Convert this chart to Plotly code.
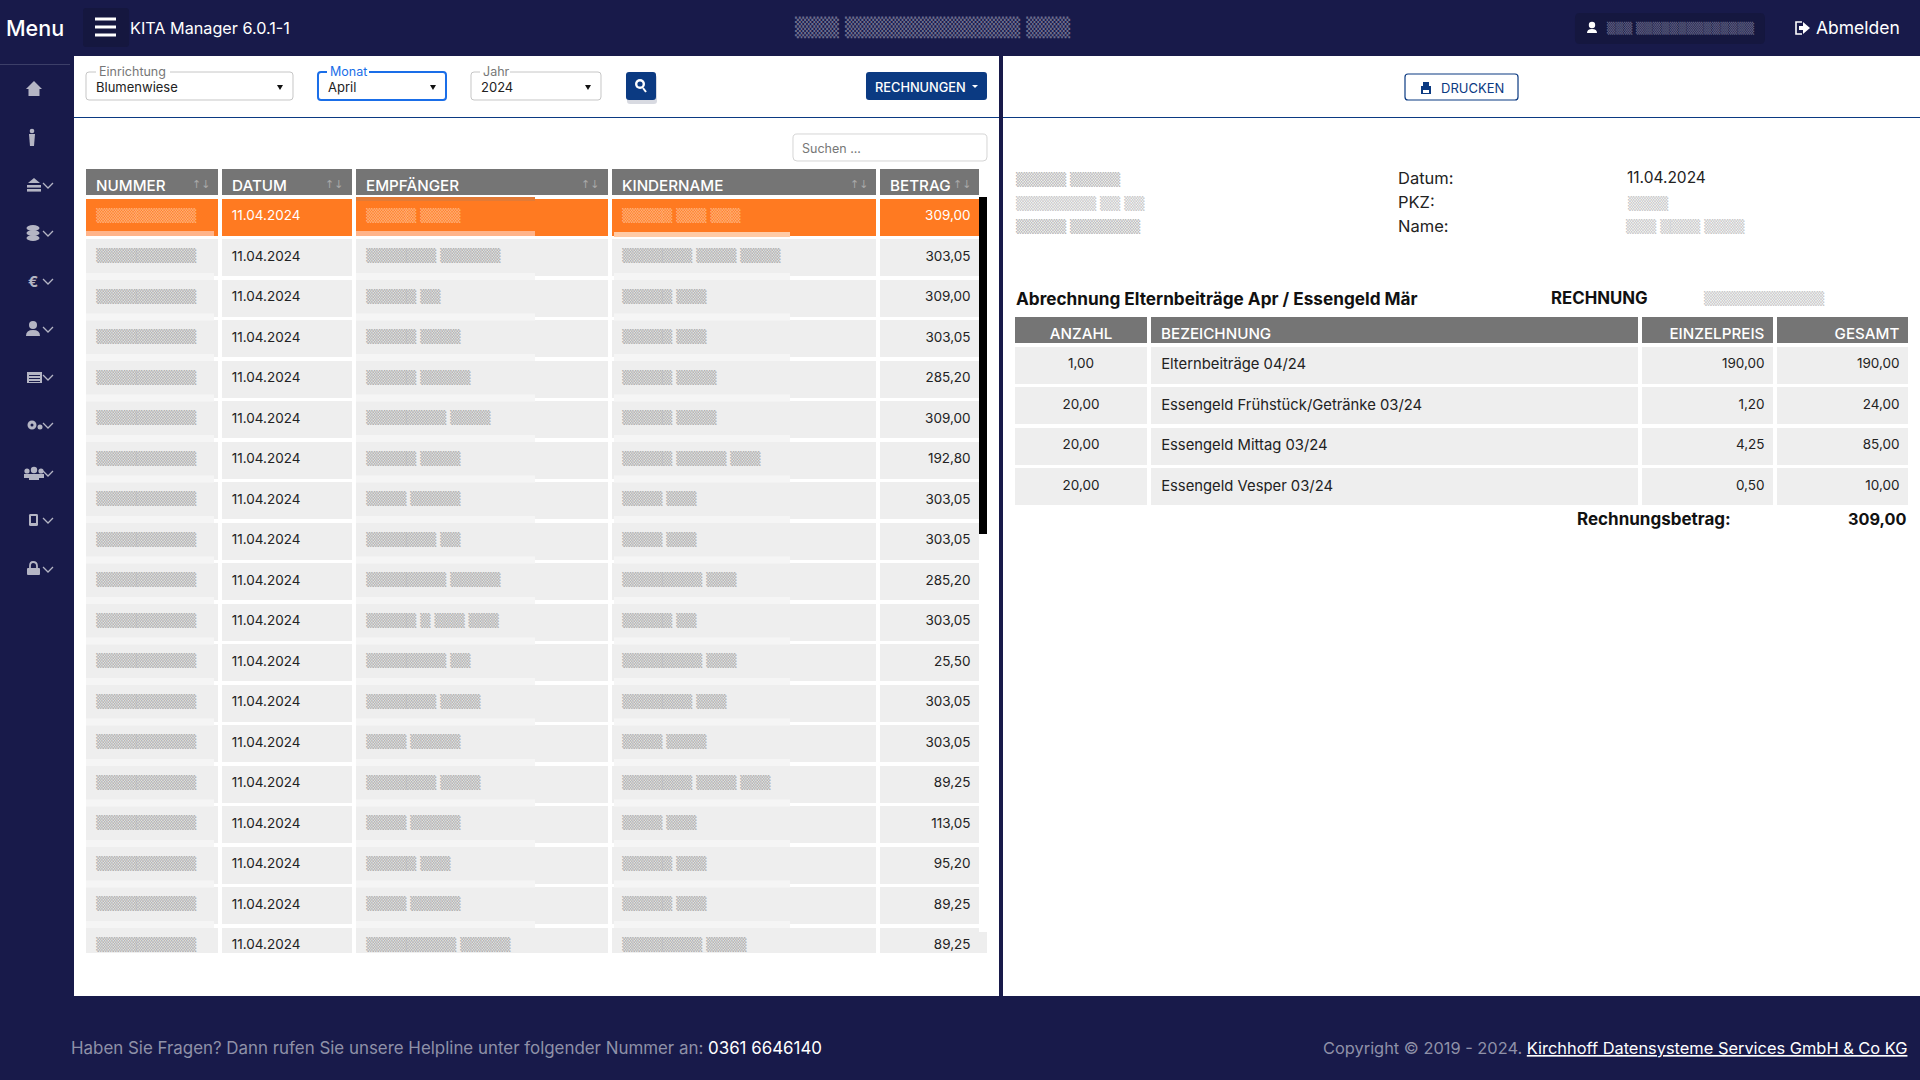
import plotly.graph_objects as go

W, H = 1920, 1080
NAVY = "#181a4a"
BLUE = "#0b3a82"
GREY_HEAD = "#757575"
ROW = "#eeeeee"
ORANGE = "#ff7a21"
FONT = "Inter"
BLOCK_FONT = "DejaVu Sans"

# left table
kopf_links = ["NUMMER", "DATUM", "EMPFÄNGER", "KINDERNAME", "BETRAG"]
nummer = ["▒▒▒▒▒▒▒▒▒▒"] * 19
datum = ["11.04.2024"] * 19
empfaenger = [
    "▒▒▒▒▒ ▒▒▒▒", "▒▒▒▒▒▒▒ ▒▒▒▒▒▒", "▒▒▒▒▒ ▒▒", "▒▒▒▒▒ ▒▒▒▒", "▒▒▒▒▒ ▒▒▒▒▒",
    "▒▒▒▒▒▒▒▒ ▒▒▒▒", "▒▒▒▒▒ ▒▒▒▒", "▒▒▒▒ ▒▒▒▒▒", "▒▒▒▒▒▒▒ ▒▒", "▒▒▒▒▒▒▒▒ ▒▒▒▒▒",
    "▒▒▒▒▒ ▒ ▒▒▒ ▒▒▒", "▒▒▒▒▒▒▒▒ ▒▒", "▒▒▒▒▒▒▒ ▒▒▒▒", "▒▒▒▒ ▒▒▒▒▒", "▒▒▒▒▒▒▒ ▒▒▒▒",
    "▒▒▒▒ ▒▒▒▒▒", "▒▒▒▒▒ ▒▒▒", "▒▒▒▒ ▒▒▒▒▒", "▒▒▒▒▒▒▒▒▒ ▒▒▒▒▒",
]
kindername = [
    "▒▒▒▒▒ ▒▒▒ ▒▒▒", "▒▒▒▒▒▒▒ ▒▒▒▒ ▒▒▒▒", "▒▒▒▒▒ ▒▒▒", "▒▒▒▒▒ ▒▒▒", "▒▒▒▒▒ ▒▒▒▒",
    "▒▒▒▒▒ ▒▒▒▒", "▒▒▒▒▒ ▒▒▒▒▒ ▒▒▒", "▒▒▒▒ ▒▒▒", "▒▒▒▒ ▒▒▒", "▒▒▒▒▒▒▒▒ ▒▒▒",
    "▒▒▒▒▒ ▒▒", "▒▒▒▒▒▒▒▒ ▒▒▒", "▒▒▒▒▒▒▒ ▒▒▒", "▒▒▒▒ ▒▒▒▒", "▒▒▒▒▒▒▒ ▒▒▒▒ ▒▒▒",
    "▒▒▒▒ ▒▒▒", "▒▒▒▒▒ ▒▒▒", "▒▒▒▒▒ ▒▒▒", "▒▒▒▒▒▒▒▒ ▒▒▒▒",
]
betrag = ["309,00", "303,05", "309,00", "303,05", "285,20", "309,00", "192,80", "303,05", "303,05",
          "285,20", "303,05", "25,50", "303,05", "303,05", "89,25", "113,05", "95,20", "89,25", "89,25"]

# right table
kopf_rechts = ["ANZAHL", "BEZEICHNUNG", "EINZELPREIS", "GESAMT"]
anzahl = ["1,00", "20,00", "20,00", "20,00"]
bezeichnung = ["Elternbeiträge 04/24", "Essengeld Frühstück/Getränke 03/24", "Essengeld Mittag 03/24", "Essengeld Vesper 03/24"]
einzelpreis = ["190,00", "1,20", "4,25", "0,50"]
gesamt = ["190,00", "24,00", "85,00", "10,00"]

menu_y = [89, 137, 185, 233, 281, 329, 377, 425, 473, 520, 569]

shapes = []
notes = []


def fx(x):
    return x / W


def fy(y):
    return 1 - y / H


def rect(x0, y0, x1, y1, fill, line=None, lw=0, layer="above"):
    shapes.append(dict(type="rect", xref="paper", yref="paper", x0=fx(x0), x1=fx(x1), y0=fy(y0), y1=fy(y1),
                       fillcolor=fill, line=dict(color=line or fill, width=lw), layer=layer))


def circle(cx, cy, r, fill, ry=None):
    ry = ry or r
    shapes.append(dict(type="circle", xref="paper", yref="paper", x0=fx(cx - r), x1=fx(cx + r), y0=fy(cy - ry), y1=fy(cy + ry),
                       fillcolor=fill, line=dict(width=0), layer="above"))


def path(cmds, fill=None, line=None, lw=0):
    # cmds: list of (letter, x, y, ...) in pixels
    out = ""
    for c in cmds:
        out += c[0]
        nums = c[1:]
        out += " ".join(f"{fx(nums[i]):.5f},{fy(nums[i + 1]):.5f}" for i in range(0, len(nums), 2)) + " "
    if fill:
        out += "Z"
    shapes.append(dict(type="path", xref="paper", yref="paper", path=out, fillcolor=fill or "rgba(0,0,0,0)",
                       line=dict(color=line or "rgba(0,0,0,0)", width=lw), layer="above"))


def rrect(x0, y0, x1, y1, fill, line=None, lw=0, r=3):
    path([("M", x0 + r, y0), ("L", x1 - r, y0), ("Q", x1, y0, x1, y0 + r), ("L", x1, y1 - r), ("Q", x1, y1, x1 - r, y1),
          ("L", x0 + r, y1), ("Q", x0, y1, x0, y1 - r), ("L", x0, y0 + r), ("Q", x0, y0, x0 + r, y0)], fill, line, lw)


def label(x, y, text, size=13, color="#222222", anchor="left", family=FONT, weight=None):
    f = dict(size=size, color=color, family=family)
    if weight:
        f["weight"] = weight
    notes.append(dict(x=fx(x), y=fy(y), xref="paper", yref="paper", text=text, showarrow=False, xanchor=anchor,
                      yanchor="middle", font=f, borderpad=0))


def chevron(x, y, col):
    path([("M", x - 5, y - 2), ("L", x, y + 3), ("L", x + 5, y - 2)], None, col, 1.3)


# page panels, under the tables
rect(74, 56, 999, 996, "#ffffff", layer="below")
rect(1003, 56, 1920, 996, "#ffffff", layer="below")
rect(74, 117, 999, 118, BLUE)
rect(1003, 117, 1920, 118, BLUE)

# smear left by the blurring over the row gaps
n = len(betrag)
rect(356, 197, 535, 201, "#e27b37")
rect(86, 231, 214, 236, "#ffb48a")
rect(356, 231, 535, 236, "#ffb48a")
rect(614, 232, 790, 237, "#ffcba6")
for i in range(2, n):
    top = 197 + 40.5 * i
    for x0, x1 in ((86, 214), (356, 535), (614, 790)):
        rect(x0, top - 5, x1, top + 2, "#f5f5f5")

# cut of the scrolling list
rect(80, 953, 995, 970, "#ffffff")
rect(979, 197, 987, 534, "#000000")
rect(979, 932, 987, 953, ROW)

# top bar
label(35, 28, "Menu", 21.5, "#ffffff", "center", weight=500)
rrect(83, 8, 129, 47, "#15173f")
for yy in (19, 27, 35):
    rect(95, yy - 1.5, 116, yy + 1.5, "#ffffff")
label(129, 28, "KITA Manager 6.0.1-1", 16.2, "#ffffff")
label(932, 28, "▒▒▒ ▒▒▒▒▒▒▒▒▒▒▒▒ ▒▒▒", 19, "#6d6e8e", "center", BLOCK_FONT)
rrect(1575, 13, 1765, 44, "#15173f", r=5)
circle(1592, 25, 3.2, "#ffffff")
path([("M", 1587, 33), ("Q", 1587, 29, 1592, 29), ("Q", 1597, 29, 1597, 33)], "#ffffff")
label(1606, 28, "▒▒▒ ▒▒▒▒▒▒▒▒▒▒▒▒▒▒", 11, "#6d6e8e", family=BLOCK_FONT)
path([("M", 1802, 22), ("L", 1796, 22), ("L", 1796, 34), ("L", 1802, 34)], None, "#ffffff", 1.6)
path([("M", 1799, 26), ("L", 1803, 26), ("L", 1803, 22), ("L", 1810, 28), ("L", 1803, 34), ("L", 1803, 30), ("L", 1799, 30)], "#ffffff")
label(1815, 28, "Abmelden", 17.5, "#ffffff")

# sidebar
rect(0, 64, 70, 65, "#3c3f68")
ICON = "#b4b5c4"
hy = menu_y
path([("M", 34, hy[0] - 8), ("L", 42, hy[0]), ("L", 39.5, hy[0]), ("L", 39.5, hy[0] + 7), ("L", 28.5, hy[0] + 7), ("L", 28.5, hy[0]), ("L", 26, hy[0])], ICON)
circle(32, hy[1] - 6, 2.3, ICON)
path([("M", 29, hy[1] - 3), ("L", 35, hy[1] - 3), ("L", 34, hy[1] + 9), ("L", 30, hy[1] + 9)], ICON)
path([("M", 28, hy[2] - 2), ("L", 34, hy[2] - 7), ("L", 40, hy[2] - 2)], ICON)
for dy in (0, 4):
    rect(27, hy[2] + dy, 41, hy[2] + dy + 2.6, ICON)
for dy in (-5, 0, 5):
    circle(33, hy[3] + dy, 6.5, ICON, 3)
label(33, hy[4], "€", 15, ICON, "center", weight=700)
circle(33, hy[5] - 4, 4, ICON)
path([("M", 26, hy[5] + 7), ("Q", 26, hy[5] + 1, 33, hy[5] + 1), ("Q", 40, hy[5] + 1, 40, hy[5] + 7)], ICON)
rect(27, hy[6] - 5, 42, hy[6] + 6, ICON)
for dy in (-2, 1, 4):
    rect(29, hy[6] + dy, 40, hy[6] + dy + 1, NAVY)
circle(32, hy[7], 4.5, ICON)
circle(32, hy[7], 1.5, NAVY)
circle(40, hy[7] + 2, 2.5, ICON)
for dx in (-7, 7):
    circle(34 + dx, hy[8] - 2, 2.6, ICON)
    rect(34 + dx - 3, hy[8] + 1, 34 + dx + 3, hy[8] + 5, ICON)
circle(34, hy[8] - 3, 3.2, ICON)
rect(29, hy[8] + 1, 39, hy[8] + 7, ICON)
rrect(29, hy[9] - 6, 38, hy[9] + 6, ICON, r=1.5)
rect(31, hy[9] - 4, 36, hy[9] + 3, NAVY)
path([("M", 30, hy[10] - 1), ("L", 30, hy[10] - 3), ("Q", 30, hy[10] - 7, 33, hy[10] - 7), ("Q", 37, hy[10] - 7, 37, hy[10] - 3), ("L", 37, hy[10] - 1)], None, ICON, 1.8)
rrect(27, hy[10] - 1, 40, hy[10] + 6, ICON, r=1)
for yy in hy[2:]:
    chevron(48, yy, ICON)

# filter row
for x0, x1, edge, lw, cap, cap_x, cap_w, val, col, ax in [
    (86, 293, "#c6c6c6", 1, "Einrichtung", 98, 72, "Blumenwiese", "#777777", 280),
    (318, 446, "#1a6ee8", 2, "Monat", 329, 40, "April", "#1a6ee8", 433),
    (471, 601, "#c6c6c6", 1, "Jahr", 482, 28, "2024", "#777777", 588),
]:
    rrect(x0, 72, x1, 100, "#ffffff", edge, lw)
    rect(cap_x - 2, 68, cap_x + cap_w, 76, "#ffffff")
    label(cap_x, 72, cap, 12.5, col)
    label(x0 + 9, 87, val, 13, "#222222")
    path([("M", ax - 3, 85), ("L", ax + 3, 85), ("L", ax, 90)], "#111111")

rrect(627, 75, 657, 104, "rgba(40,50,90,0.18)", r=3)
rrect(626, 72, 656, 100, BLUE)
circle(640, 84, 5, "#ffffff")
circle(640, 84, 2.6, BLUE)
path([("M", 643, 88), ("L", 646, 92)], None, "#ffffff", 2)

rrect(866, 72, 987, 100, BLUE)
label(920, 87, "RECHNUNGEN", 12.8, "#ffffff", "center", weight=500)
path([("M", 972, 85), ("L", 978, 85), ("L", 975, 88)], "#ffffff")

rrect(793, 134, 987, 161, "#ffffff", "#d5d5d5", 1, r=4)
label(801, 148, "Suchen ...", 12.5, "#777777")

# sort arrows in the header
for x_right in (211, 344, 600, 869, 972):
    label(x_right, 184, "↑↓", 11, "#a8a8a8", "right", BLOCK_FONT)

# right panel
rrect(1405, 74, 1518, 100, "#ffffff", BLUE, 1.2, r=3)
rect(1421, 86, 1431, 94, BLUE)
rect(1423, 82, 1429, 86, BLUE)
rect(1423, 90, 1429, 93, "#ffffff")
label(1440, 88, "DRUCKEN", 13, BLUE)

label(1015, 179, "▒▒▒▒▒ ▒▒▒▒▒", 13, "#b5b5b5", family=BLOCK_FONT)
label(1015, 203, "▒▒▒▒▒▒▒▒ ▒▒ ▒▒", 13, "#c5c5c5", family=BLOCK_FONT)
label(1015, 226, "▒▒▒▒▒ ▒▒▒▒▒▒▒", 13, "#b5b5b5", family=BLOCK_FONT)
label(1397, 178, "Datum:", 16.5)
label(1397, 202, "PKZ:", 16.5)
label(1397, 226, "Name:", 16.5)
label(1626, 178, "11.04.2024", 15.5)
label(1627, 203, "▒▒▒▒", 13, "#c5c5c5", family=BLOCK_FONT)
label(1625, 226, "▒▒▒ ▒▒▒▒ ▒▒▒▒", 13, "#c5c5c5", family=BLOCK_FONT)

label(1015, 298, "Abrechnung Elternbeiträge Apr / Essengeld Mär", 17.2, "#111111", weight=700)
label(1550, 298, "RECHNUNG", 16.8, "#111111", weight=700)
label(1703, 298, "▒▒▒▒▒▒▒▒▒▒▒▒", 13, "#c5c5c5", family=BLOCK_FONT)
label(1732, 519, "Rechnungsbetrag:", 17, "#111111", "right", weight=700)
label(1908, 519, "309,00", 16.3, "#111111", "right", weight=700)

# footer
label(70, 1048, "Haben Sie Fragen? Dann rufen Sie unsere Helpline unter folgender Nummer an: "
      "<span style='color:#ffffff'>0361 6646140</span>", 16.9, "#8f91a8")
label(1908, 1048, "Copyright © 2019 - 2024. <span style='color:#ffffff'><u>Kirchhoff Datensysteme Services GmbH &amp; Co KG</u></span>",
      16.4, "#8f91a8", "right")


# tables
def pad_l(values):
    return ["\u00a0" + v for v in values]


def pad_r(values):
    return [v + "\u2009" for v in values]


hilite = [ORANGE] + [ROW] * (n - 1)
txt = ["#ffffff"] + ["#222222"] * (n - 1)
blur = ["#ffb27e"] + ["#adadad"] * (n - 1)

links = go.Table(
    domain=dict(x=[fx(84), fx(981)], y=[fy(167 + 30 + 40.5 * n + 2), fy(167)]),
    columnwidth=[136, 134, 256, 268, 103],
    header=dict(values=pad_l(kopf_links), height=30, align="left", fill_color=GREY_HEAD,
                line=dict(color="#ffffff", width=3.5),
                font=dict(family=FONT, size=15.2, color="#ffffff", weight=500)),
    cells=dict(values=[pad_l(nummer), pad_l(datum), pad_l(empfaenger), pad_l(kindername), pad_r(betrag)], height=40.5,
               align=["left", "left", "left", "left", "right"], fill_color=[hilite] * 5,
               line=dict(color="#ffffff", width=3.5),
               font=dict(family=[BLOCK_FONT, FONT, BLOCK_FONT, BLOCK_FONT, FONT], size=[13, 13.5, 13, 13, 13.5],
                         color=[blur, txt, blur, blur, txt])),
)
rechts = go.Table(
    domain=dict(x=[fx(1013), fx(1910)], y=[fy(315 + 30 + 40.5 * 4 + 1), fy(315)]),
    columnwidth=[136, 491, 135, 135],
    header=dict(values=[kopf_rechts[0], *pad_l(kopf_rechts[1:2]), *pad_r(kopf_rechts[2:])], height=30,
                align=["center", "left", "right", "right"], fill_color=GREY_HEAD,
                line=dict(color="#ffffff", width=3.5),
                font=dict(family=FONT, size=15.2, color="#ffffff", weight=500)),
    cells=dict(values=[anzahl, pad_l(bezeichnung), pad_r(einzelpreis), pad_r(gesamt)], height=40.5,
               align=["center", "left", "right", "right"], fill_color=ROW,
               line=dict(color="#ffffff", width=3.5),
               font=dict(family=FONT, size=[13.5, 14.8, 13.5, 13.5], color="#222222")),
)

fig = go.Figure(data=[links, rechts])
fig.update_layout(width=W, height=H, margin=dict(l=0, r=0, t=0, b=0), paper_bgcolor=NAVY,
                  shapes=shapes, annotations=notes, showlegend=False)
page_css = ("document.body.style.margin='0';"
            "var s=document.createElement('style');"
            "s.textContent='.cell-text{transform:translateY(5px)}';"
            "document.head.appendChild(s);")
fig.write_html("out.html", config={"displayModeBar": False}, post_script=page_css)
